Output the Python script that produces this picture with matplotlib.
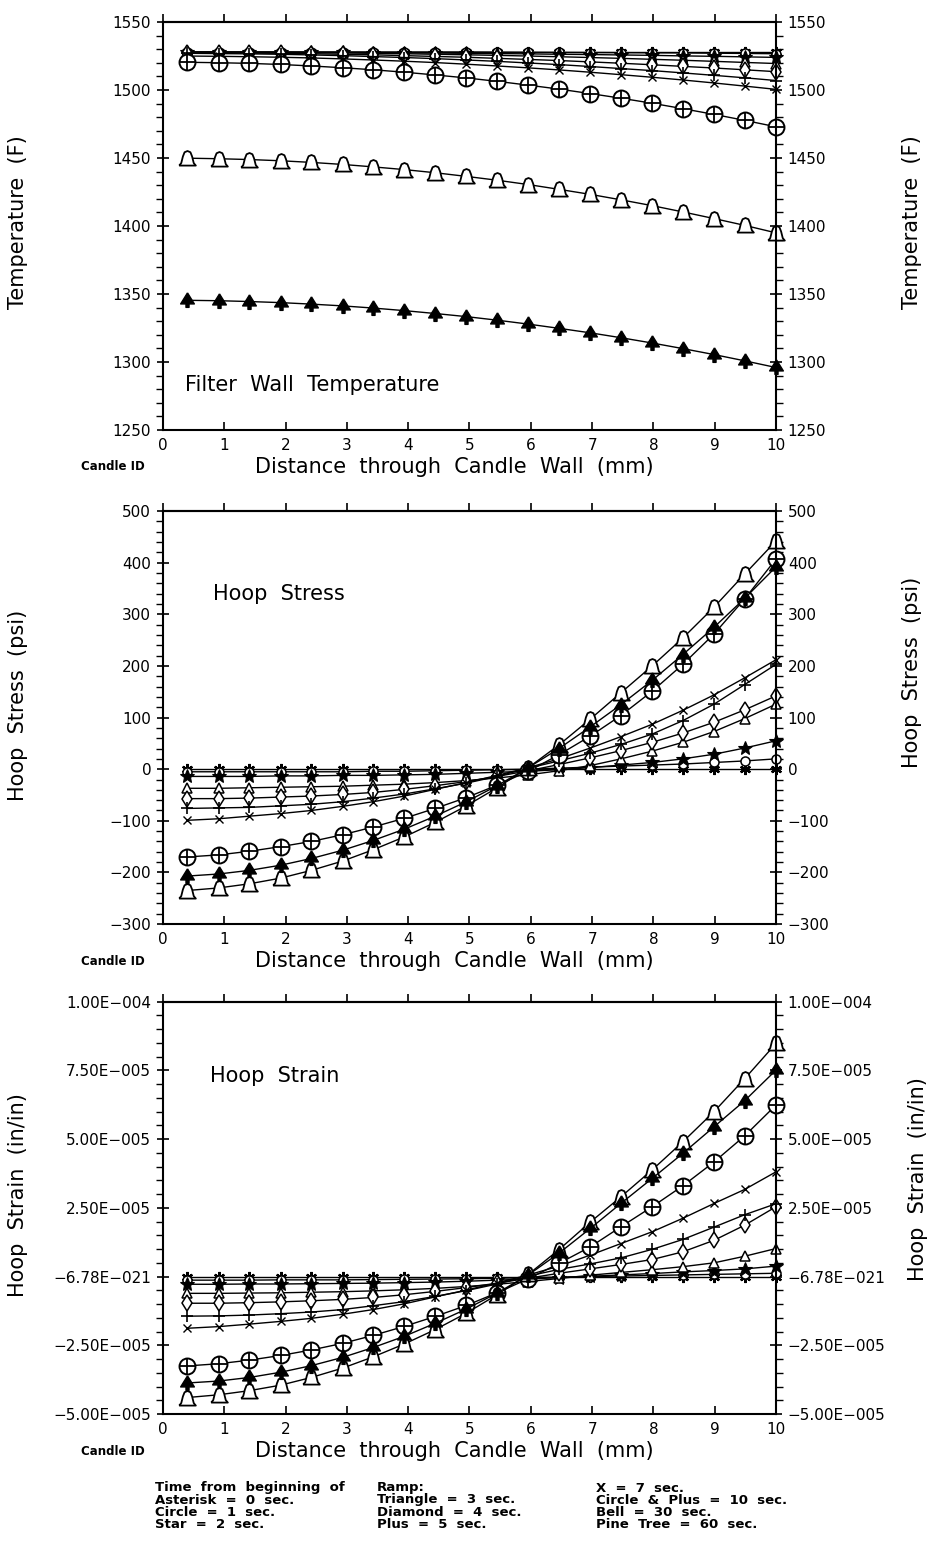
#!/usr/bin/env python

import matplotlib
matplotlib.use("Agg")
import matplotlib.pyplot as plt
from matplotlib.path import Path
from matplotlib.ticker import MultipleLocator, FixedLocator, FixedFormatter

# distance through the candle wall (mm), same grid in all three panels
dist = [0.40, 0.91, 1.41, 1.92, 2.42, 2.93, 3.43, 3.94, 4.44, 4.95,
        5.45, 5.96, 6.46, 6.97, 7.47, 7.98, 8.48, 8.99, 9.49, 10.00]

times = ["0", "1", "2", "3", "4", "5", "7", "10", "30", "60"]

# --- filter wall temperature (F)
temp_0s = [1528, 1528, 1528, 1528, 1528, 1528, 1528, 1528, 1528, 1528,
           1528, 1528, 1528, 1528, 1528, 1528, 1528, 1528, 1528, 1528]
temp_1s = [1528, 1528, 1528, 1528, 1528, 1528, 1528, 1528, 1528, 1528,
           1527.9, 1527.8, 1527.7, 1527.6, 1527.5, 1527.4, 1527.3, 1527.1, 1526.9, 1526.7]
temp_2s = [1528, 1528, 1527.9, 1527.9, 1527.8, 1527.7, 1527.5, 1527.4, 1527.2, 1527.0,
           1526.8, 1526.6, 1526.3, 1526.1, 1525.8, 1525.5, 1525.1, 1524.8, 1524.4, 1524.0]
temp_3s = [1528.0, 1527.9, 1527.8, 1527.7, 1527.5, 1527.3, 1527.0, 1526.7, 1526.3, 1525.9,
           1525.5, 1525.0, 1524.5, 1523.9, 1523.3, 1522.6, 1521.9, 1521.1, 1520.3, 1519.5]
temp_4s = [1527.5, 1527.4, 1527.2, 1527.0, 1526.7, 1526.3, 1525.9, 1525.3, 1524.7, 1524.1,
           1523.3, 1522.5, 1521.7, 1520.7, 1519.7, 1518.6, 1517.4, 1516.2, 1514.9, 1513.5]
temp_5s = [1527.0, 1526.8, 1526.6, 1526.3, 1525.8, 1525.3, 1524.6, 1523.9, 1523.1, 1522.1,
           1521.1, 1519.9, 1518.7, 1517.3, 1515.8, 1514.3, 1512.6, 1510.8, 1509.0, 1507.0]
temp_7s = [1525.0, 1524.8, 1524.5, 1524.1, 1523.6, 1522.9, 1522.1, 1521.2, 1520.2, 1519.0,
           1517.7, 1516.3, 1514.8, 1513.1, 1511.3, 1509.4, 1507.4, 1505.2, 1502.9, 1500.5]
temp_10s = [1520.4, 1520.1, 1519.6, 1518.8, 1517.7, 1516.4, 1514.9, 1513.1, 1511.1, 1508.9,
            1506.4, 1503.6, 1500.7, 1497.4, 1494.0, 1490.3, 1486.3, 1482.1, 1477.7, 1473.0]
temp_30s = [1449.9, 1449.5, 1448.9, 1448.0, 1446.8, 1445.3, 1443.5, 1441.5, 1439.2, 1436.5,
            1433.7, 1430.5, 1427.0, 1423.3, 1419.3, 1415.0, 1410.4, 1405.5, 1400.5, 1395.0]
temp_60s = [1345.4, 1345.1, 1344.5, 1343.7, 1342.6, 1341.3, 1339.7, 1337.8, 1335.7, 1333.4,
            1330.8, 1327.9, 1324.8, 1321.5, 1317.9, 1314.0, 1309.9, 1305.5, 1300.9, 1296.0]

# --- hoop stress (psi)
stress_0s = [0, 0, 0, 0, 0, 0, 0, 0, 0, 0, 0, 0, 0, 0, 0, 0, 0, 0, 0, 0]
stress_1s = [-5, -5, -5, -5, -5, -5, -4, -4, -3, -2, -1, 0, 2, 4, 6, 8, 10, 13, 16, 20]
stress_2s = [-14, -14, -14, -13, -13, -12, -12, -11, -10, -8, -6, -4, -1, 3, 8, 13, 20, 29, 41, 55]
stress_3s = [-37, -37, -36, -35, -34, -33, -31, -29, -26, -22, -17, -11, -3, 7, 20, 35, 52, 73, 98, 126]
stress_4s = [-57, -57, -56, -54, -52, -49, -45, -39, -32, -24, -14, -3, 9, 22, 36, 52, 70, 91, 115, 142]
stress_5s = [-76, -75, -74, -71, -68, -63, -56, -48, -38, -27, -14, 2, 16, 31, 48, 68, 94, 126, 164, 203]
stress_7s = [-99, -96, -91, -86, -80, -72, -63, -52, -39, -26, -12, 3, 20, 41, 63, 87, 114, 144, 177, 212]
stress_10s = [-170, -166, -159, -150, -140, -127, -112, -95, -76, -55,
              -31, -4, 28, 64, 104, 151, 203, 262, 330, 407]
stress_30s = [-235, -230, -222, -211, -196, -178, -156, -131, -103, -71,
              -36, 3, 47, 97, 148, 200, 254, 314, 378, 442]
stress_60s = [-207, -203, -196, -186, -173, -157, -138, -116, -91, -63,
              -32, 3, 40, 82, 125, 172, 222, 275, 331, 392]

# --- hoop strain (in/in), in units of 1e-5
strain_0s = [0, 0, 0, 0, 0, 0, 0, 0, 0, 0, 0, 0, 0, 0, 0, 0, 0, 0, 0, 0]
strain_1s = [-0.13, -0.13, -0.13, -0.12, -0.12, -0.12, -0.11, -0.10, -0.09, -0.08,
             -0.06, -0.04, -0.02, 0.00, 0.02, 0.04, 0.06, 0.08, 0.10, 0.12]
strain_2s = [-0.28, -0.28, -0.27, -0.27, -0.26, -0.25, -0.24, -0.22, -0.20, -0.17,
             -0.13, -0.09, -0.04, 0.01, 0.06, 0.11, 0.17, 0.22, 0.28, 0.38]
strain_3s = [-0.61, -0.61, -0.60, -0.59, -0.57, -0.55, -0.52, -0.48, -0.43, -0.36,
             -0.28, -0.18, -0.07, 0.05, 0.15, 0.25, 0.36, 0.50, 0.74, 1.02]
strain_4s = [-0.97, -0.97, -0.95, -0.92, -0.88, -0.83, -0.76, -0.66, -0.54, -0.40,
             -0.24, -0.06, 0.12, 0.28, 0.44, 0.62, 0.90, 1.32, 1.87, 2.54]
strain_5s = [-1.44, -1.43, -1.40, -1.35, -1.29, -1.20, -1.06, -0.91, -0.72, -0.51,
             -0.27, 0.02, 0.26, 0.46, 0.68, 0.99, 1.35, 1.80, 2.25, 2.65]
strain_7s = [-1.88, -1.82, -1.73, -1.63, -1.52, -1.37, -1.20, -0.99, -0.74, -0.49,
             -0.23, 0.06, 0.38, 0.78, 1.20, 1.63, 2.12, 2.66, 3.17, 3.81]
strain_10s = [-3.25, -3.17, -3.04, -2.87, -2.67, -2.43, -2.14, -1.81, -1.45, -1.05,
              -0.59, -0.08, 0.48, 1.08, 1.81, 2.54, 3.30, 4.17, 5.12, 6.24]
strain_30s = [-4.40, -4.30, -4.15, -3.95, -3.67, -3.33, -2.92, -2.45, -1.93, -1.33,
              -0.66, 0.08, 0.98, 1.98, 2.90, 3.88, 4.90, 6.00, 7.20, 8.48]
strain_60s = [-3.87, -3.80, -3.67, -3.48, -3.24, -2.94, -2.58, -2.17, -1.70, -1.18,
              -0.60, 0.06, 0.85, 1.75, 2.66, 3.57, 4.48, 5.45, 6.40, 7.51]

strain_ticks = [-5.0, -2.5, 0.0, 2.5, 5.0, 7.5, 10.0]
strain_tick_labels = ["\u22125.00E\u2212005", "\u22122.50E\u2212005", "\u22126.78E\u2212021",
                      "2.50E\u2212005", "5.00E\u2212005", "7.50E\u2212005", "1.00E\u2212004"]

legend_col1 = ["Time  from  beginning  of", "Asterisk  =  0  sec.", "Circle  =  1  sec.", "Star  =  2  sec."]
legend_col2 = ["Ramp:", "Triangle  =  3  sec.", "Diamond  =  4  sec.", "Plus  =  5  sec."]
legend_col3 = ["X  =  7  sec.", "Circle  &  Plus  =  10  sec.", "Bell  =  30  sec.", "Pine  Tree  =  60  sec."]


# custom marker shapes
bell = Path([(-1.0, -0.85), (1.0, -0.85), (0.75, -0.55), (0.55, 0.25), (0.35, 0.75),
             (0.0, 0.9), (-0.35, 0.75), (-0.55, 0.25), (-0.75, -0.55), (-1.0, -0.85)])
pine = Path([(0.0, 1.0), (0.9, -0.45), (0.2, -0.45), (0.2, -0.9), (-0.2, -0.9),
             (-0.2, -0.45), (-0.9, -0.45), (0.0, 1.0)])

styles = {
    "0":  dict(marker=(6, 2, 0), ms=8, mfc='black', mew=1.6),
    "1":  dict(marker='o', ms=6.5, mfc='white', mew=1.1),
    "2":  dict(marker='*', ms=10, mfc='black', mew=0.8),
    "3":  dict(marker='^', ms=7, mfc='white', mew=1.1),
    "4":  dict(marker='d', ms=8, mfc='white', mew=1.1),
    "5":  dict(marker='+', ms=9, mfc='black', mew=1.2),
    "7":  dict(marker='x', ms=6, mfc='black', mew=1.0),
    "10": dict(marker='o', ms=11.5, mfc='white', mew=1.4),
    "30": dict(marker=bell, ms=12, mfc='white', mew=1.3),
    "60": dict(marker=pine, ms=11, mfc='black', mew=1.0),
}

BIG = 15
TICK = 11


def draw_series(ax, series):
    for t, y in zip(times, series):
        st = styles[t]
        ax.plot(dist, y, color='black', lw=1.0, marker=st['marker'], ms=st['ms'],
                mfc=st['mfc'], mec='black', mew=st['mew'], clip_on=False)
        if t == "10":
            ax.plot(dist, y, ls='none', marker='+', ms=11.5, mec='black', mew=1.3, clip_on=False)


def style_axes(ax, ymin, ymax, major, minor):
    ax.set_xlim(0, 10)
    ax.set_ylim(ymin, ymax)
    ax.xaxis.set_major_locator(MultipleLocator(1))
    if major is not None:
        ax.yaxis.set_major_locator(MultipleLocator(major))
    ax.yaxis.set_minor_locator(MultipleLocator(minor))
    ax.tick_params(axis='y', which='major', direction='inout', length=9, width=1.2,
                   left=True, right=True, labelleft=True, labelright=True, labelsize=TICK, pad=4)
    ax.tick_params(axis='y', which='minor', direction='out', length=5, width=1.0,
                   left=True, right=True)
    ax.tick_params(axis='x', which='major', direction='in', length=6, width=1.2,
                   top=False, bottom=True, labelsize=TICK, pad=6)
    for s in ax.spines.values():
        s.set_linewidth(1.5)
    top = ax.secondary_xaxis('top')
    top.xaxis.set_major_locator(MultipleLocator(1))
    top.tick_params(direction='out', length=6, width=1.2, labeltop=False)
    top.spines['top'].set_linewidth(1.5)


def label_axes(ax, ylabel, title, title_pos, ylab_pos=0.5, ylab_pos_r=0.5, right_x=1.222):
    ax.text(-0.237, ylab_pos, ylabel, rotation=90, transform=ax.transAxes,
            ha='center', va='center', fontsize=BIG)
    ax.text(right_x, ylab_pos_r, ylabel, rotation=90, transform=ax.transAxes,
            ha='center', va='center', fontsize=BIG)
    ax.text(0.475, -0.09, "Distance  through  Candle  Wall  (mm)", transform=ax.transAxes,
            ha='center', va='center', fontsize=BIG)
    ax.text(-0.082, -0.09, "Candle ID", transform=ax.transAxes, ha='center', va='center',
            fontsize=8.5, fontweight='bold')
    ax.text(title_pos[0], title_pos[1], title, transform=ax.transAxes,
            ha='left', va='center', fontsize=BIG)


def main():
    plt.rcParams['font.family'] = ['DejaVu Sans']
    fig = plt.figure(figsize=(9.28, 15.52), dpi=100)

    ax1 = fig.add_axes([0.1756, 0.7229, 0.6606, 0.2629])
    ax2 = fig.add_axes([0.1756, 0.4046, 0.6606, 0.2661])
    ax3 = fig.add_axes([0.1756, 0.0889, 0.6606, 0.2657])

    # temperature
    style_axes(ax1, 1250, 1550, 50, 10)
    draw_series(ax1, [temp_0s, temp_1s, temp_2s, temp_3s, temp_4s,
                      temp_5s, temp_7s, temp_10s, temp_30s, temp_60s])
    label_axes(ax1, "Temperature  (F)", "Filter  Wall  Temperature", (0.036, 0.11), 0.51, 0.51)

    # hoop stress
    style_axes(ax2, -300, 500, 100, 20)
    draw_series(ax2, [stress_0s, stress_1s, stress_2s, stress_3s, stress_4s,
                      stress_5s, stress_7s, stress_10s, stress_30s, stress_60s])
    label_axes(ax2, "Hoop  Stress  (psi)", "Hoop  Stress", (0.082, 0.80), 0.53, 0.61)

    # hoop strain
    style_axes(ax3, -5, 10, None, 0.5)
    ax3.yaxis.set_major_locator(FixedLocator(strain_ticks))
    ax3.yaxis.set_major_formatter(FixedFormatter(strain_tick_labels))
    ax3.tick_params(axis='y', which='major', labelsize=11)
    draw_series(ax3, [strain_0s, strain_1s, strain_2s, strain_3s, strain_4s,
                      strain_5s, strain_7s, strain_10s, strain_30s, strain_60s])
    label_axes(ax3, "Hoop  Strain  (in/in)", "Hoop  Strain", (0.077, 0.82), 0.53, 0.57, 1.232)

    # key for the marker symbols
    rows_y = [1488, 1500, 1512, 1524]
    for col_x, col in zip([155, 377, 596], [legend_col1, legend_col2, legend_col3]):
        for y, txt in zip(rows_y, col):
            fig.text(col_x / 928.0, 1 - y / 1552.0, txt, ha='left', va='center',
                     fontsize=9.5, fontweight='bold')

    fig.savefig("out.png", dpi=100)
    return 0


if __name__ == "__main__":
    main()
